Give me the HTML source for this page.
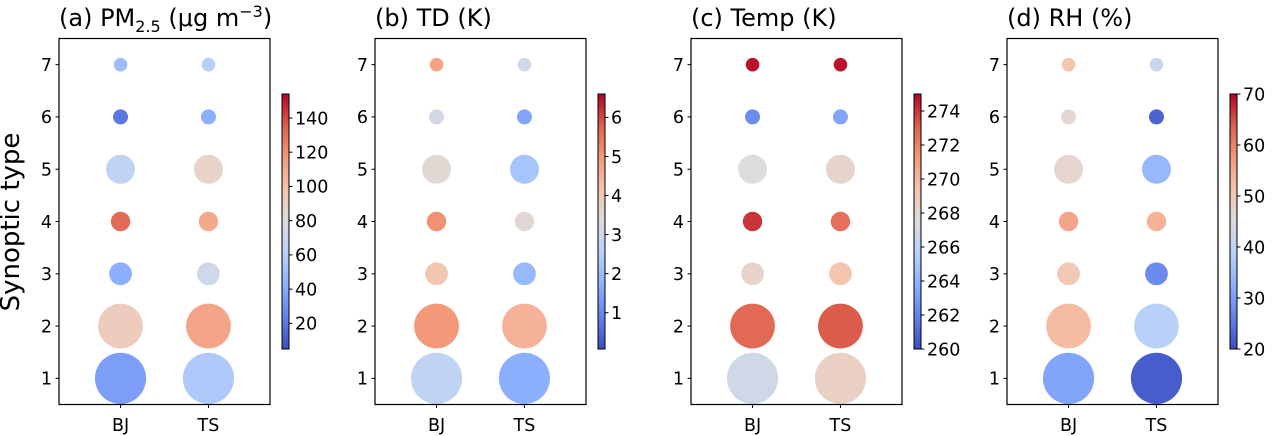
<!DOCTYPE html>
<html><head><meta charset="utf-8"><style>
html,body{margin:0;padding:0;background:#fff;}
svg{display:block;font-family:"DejaVu Sans","Liberation Sans",sans-serif;}
</style></head><body>
<svg id="fig" width="1273" height="436" viewBox="0 0 1273 436" xmlns="http://www.w3.org/2000/svg">
<defs>
<linearGradient id="cw" x1="0" y1="1" x2="0" y2="0">
<stop offset="0" stop-color="rgb(59,76,192)"/><stop offset="0.125" stop-color="rgb(98,130,234)"/>
<stop offset="0.25" stop-color="rgb(141,176,254)"/><stop offset="0.375" stop-color="rgb(184,208,249)"/>
<stop offset="0.5" stop-color="rgb(221,221,221)"/><stop offset="0.625" stop-color="rgb(245,196,173)"/>
<stop offset="0.75" stop-color="rgb(244,154,123)"/><stop offset="0.875" stop-color="rgb(222,96,77)"/>
<stop offset="1" stop-color="rgb(180,4,38)"/>
</linearGradient>
</defs>
<text x="11" y="222" font-size="26" text-anchor="middle" transform="rotate(-90 11 222)" dominant-baseline="central">Synoptic type</text>
</svg>
<script>
const types = [1,2,3,4,5,6,7];
const stations = ["BJ","TS"];
const bubbleRadius = [25.6,22.4,11.4,9.7,14.5,7.5,6.8];
const pmBJ = [35,92,42,132,65,20,50];
const pmTS = [57,112,72,110,87,42,60];
const tdBJ = [2.7,5.0,4.1,5.1,3.5,3.1,4.8];
const tdTS = [1.7,4.5,1.9,3.5,2.2,1.5,3.0];
const tempBJ = [266.8,272.8,268.2,274.0,267.5,262.3,274.7];
const tempTS = [268.5,273.2,269.3,272.6,268.2,263.3,274.7];
const rhBJ = [31,52.5,50,56,47,46.5,51];
const rhTS = [22,39,27.5,54,34,22.5,41.5];
const pmTicks = [20,40,60,80,100,120,140];
const tdTicks = [1,2,3,4,5,6];
const tempTicks = [260,262,264,266,268,270,272,274];
const rhTicks = [20,30,40,50,60,70];

const panels = [
 {name:"pm25", title:'(a) PM<tspan font-size="16" dy="6">2.5</tspan><tspan dy="-6"> (μg m</tspan><tspan font-size="16" dy="-9">−3</tspan><tspan dy="9">)</tspan>', bj:pmBJ, ts:pmTS, vmin:5, vmax:154, ticks:pmTicks},
 {name:"td", title:"(b) TD (K)", bj:tdBJ, ts:tdTS, vmin:0.07, vmax:6.6, ticks:tdTicks},
 {name:"temp", title:"(c) Temp (K)", bj:tempBJ, ts:tempTS, vmin:260, vmax:275, ticks:tempTicks},
 {name:"rh", title:"(d) RH (%)", bj:rhBJ, ts:rhTS, vmin:20, vmax:70, ticks:rhTicks}
];
const cwStops=[[59,76,192],[98,130,234],[141,176,254],[184,208,249],[221,221,221],[245,196,173],[244,154,123],[222,96,77],[180,4,38]];
function cmap(t){t=Math.max(0,Math.min(1,t));const f=t*8;const i=Math.min(7,Math.floor(f));const u=f-i;
 const a=cwStops[i],b=cwStops[i+1];return `rgb(${a.map((v,k)=>Math.round(v+(b[k]-v)*u)).join(",")})`;}
const NS="http://www.w3.org/2000/svg";
const svgRoot=document.getElementById("fig");
function mk(tag,attrs,parent){const e=document.createElementNS(NS,tag);for(const k in attrs)e.setAttribute(k,attrs[k]);(parent||svgRoot).appendChild(e);return e;}
const axTop=38.5, axBot=404.5;
const TICKFS=17.5;
panels.forEach((p,pi)=>{
 const L=59+316*pi, R=L+211;
 const g=mk("g",{});
 
 
 const xs=v=>L+(v+0.7)/2.4*(R-L);
 const ys=v=>axBot-(v-0.5)/7*(axBot-axTop);
 const t=mk("text",{x:L,y:26,"font-size":24},g);t.innerHTML=p.title;
 
 
 types.forEach((ty,i)=>{
  [p.bj,p.ts].forEach((arr,si)=>{
   const c=mk("circle",{cx:xs(si),cy:ys(ty),r:bubbleRadius[i],fill:cmap((arr[i]-p.vmin)/(p.vmax-p.vmin))},g);
   
   
  });
  mk("line",{x1:L-3.5,x2:L,y1:ys(ty),y2:ys(ty),stroke:"#000","stroke-width":1},g);
  const yl=mk("text",{x:L-7,y:ys(ty)+6.3,"font-size":TICKFS,"text-anchor":"end"},g);yl.textContent=ty;
  
  
 });
 stations.forEach((s,si)=>{
  mk("line",{x1:xs(si),x2:xs(si),y1:axBot,y2:axBot+3.5,stroke:"#000","stroke-width":1},g);
  const xl=mk("text",{x:xs(si),y:431,"font-size":TICKFS,"text-anchor":"middle"},g);xl.textContent=s;
  
  
 });
 const fr=mk("rect",{x:L,y:axTop,width:R-L,height:axBot-axTop,fill:"none",stroke:"#000","stroke-width":1.2},g);
 
 
 const cx=L+223,cT=94,cB=349;
 const cb=mk("rect",{x:cx,y:cT,width:7,height:cB-cT,fill:"url(#cw)",stroke:"#000","stroke-width":1},g);
 
 
 p.ticks.forEach(v=>{
  const y=cB-(v-p.vmin)/(p.vmax-p.vmin)*(cB-cT);
  mk("line",{x1:cx+7,x2:cx+10.5,y1:y,y2:y,stroke:"#000","stroke-width":1},g);
  const tl=mk("text",{x:cx+13,y:y+6.3,"font-size":TICKFS},g);tl.textContent=v;
  
  
 });
});
</script>
</body></html>
